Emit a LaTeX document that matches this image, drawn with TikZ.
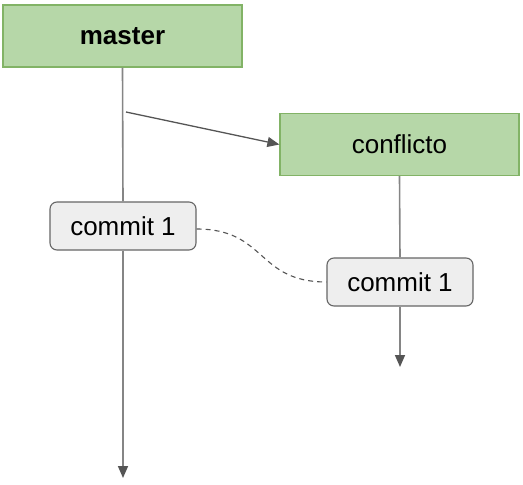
\documentclass[tikz,border=0pt]{standalone}
\usepackage{fontspec}
\setmainfont{Liberation Sans}
\usetikzlibrary{arrows.meta}
\definecolor{gfill}{HTML}{B6D7A8}
\definecolor{gdraw}{HTML}{82B366}
\definecolor{cfill}{HTML}{EEEEEE}
\definecolor{cdraw}{HTML}{666666}
\definecolor{lgray}{HTML}{858585}
\definecolor{hgray}{HTML}{555555}
\tikzset{
  branch/.style={draw=gdraw, fill=gfill, line width=1.2pt, minimum width=239pt, minimum height=62pt, inner sep=0pt, font=\fontsize{26}{30}\selectfont},
  commitbox/.style={draw=cdraw, fill=cfill, line width=1.1pt, rounded corners=7pt, minimum width=146pt, minimum height=48pt, inner sep=0pt, font=\fontsize{26}{30}\selectfont},
  conn/.style={draw=lgray, line width=1.6pt, -{Triangle[length=12pt,width=10pt,color=hgray]}},
  seg/.style={draw=lgray, line width=1.6pt},
}
\begin{document}
\begin{tikzpicture}[x=1pt,y=-1pt]
\useasboundingbox (0,0) rectangle (523,485);
\node[branch] (master) at (122.5,36) {\textbf{master}};
\node[branch] (conf) at (399.5,144.5) {conflicto};
\node[commitbox] (c1) at (123,226) {commit 1};
\node[commitbox] (c2) at (400,282) {commit 1};
\coordinate (mend) at (123,478);
\coordinate (cend) at (400,367);
\coordinate (fork) at (126,112);
% master line
\draw[seg] (master.south) -- (c1.north);
\draw[conn] (c1.south) -- (mend);
% conflicto line
\draw[seg] (conf.south) -- (c2.north);
\draw[conn] (c2.south) -- (cend);
% fork arrow
\draw[conn, draw=hgray, line width=1.3pt] (fork) -- (conf.west);
% dashed relation
\draw[draw=hgray, line width=1.1pt, dash pattern=on 5pt off 4pt] ([yshift=-3pt]c1.east) .. controls +(70,0) and +(-70,0) .. (c2.west);
\end{tikzpicture}
\end{document}
